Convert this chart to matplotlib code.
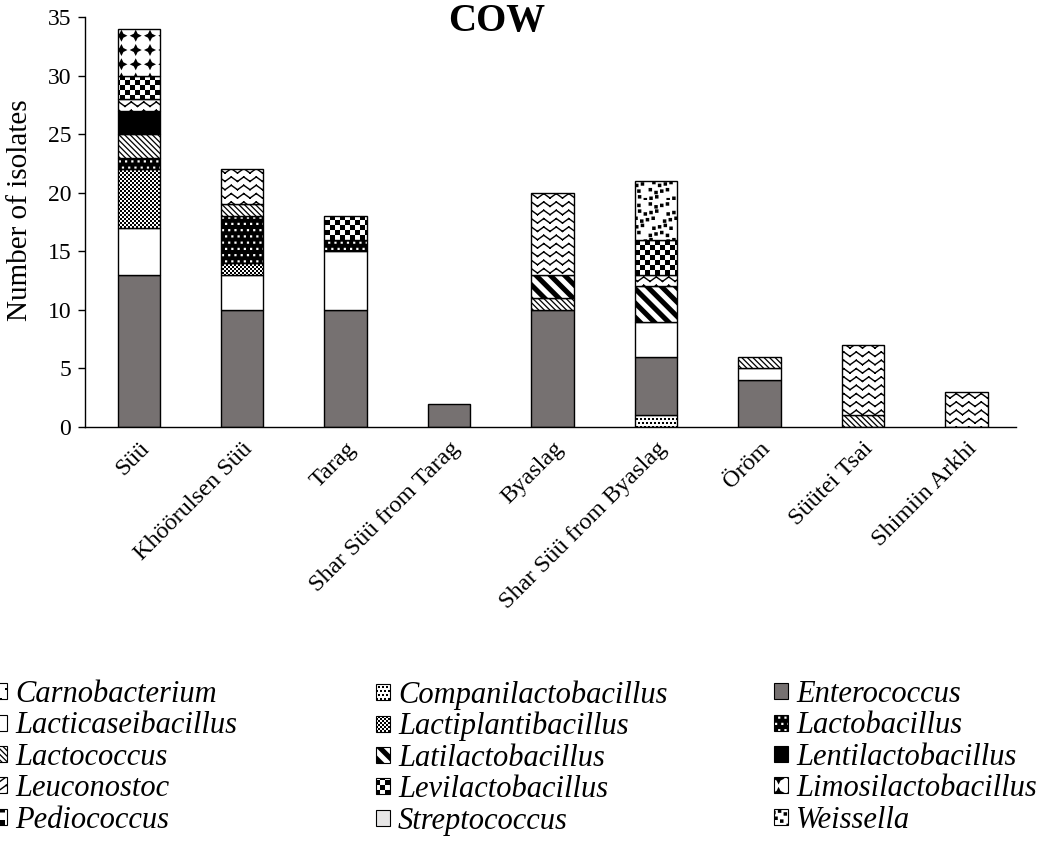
import warnings
warnings.filterwarnings("ignore")
import numpy as np
import matplotlib
matplotlib.use("Agg")
import matplotlib.pyplot as plt
import matplotlib.hatch as mhatch
from matplotlib.path import Path
from matplotlib.patches import Patch
from matplotlib.colors import to_rgba

# ---------------- data ----------------
categories = ["Süü", "Khöörulsen Süü", "Tarag", "Shar Süü from Tarag", "Byaslag",
              "Shar Süü from Byaslag", "Öröm", "Süütei Tsai", "Shimiin Arkhi"]

Carnobacterium = [0, 0, 0, 0, 0, 0, 0, 0, 0]
Companilactobacillus = [0, 0, 0, 0, 0, 1, 0, 0, 0]
Enterococcus = [13, 10, 10, 2, 10, 5, 4, 0, 0]
Lacticaseibacillus = [4, 3, 5, 0, 0, 3, 1, 0, 0]
Lactiplantibacillus = [5, 1, 0, 0, 0, 0, 0, 0, 0]
Lactobacillus = [1, 4, 1, 0, 0, 0, 0, 0, 0]
Lactococcus = [2, 1, 0, 0, 1, 0, 1, 1, 0]
Latilactobacillus = [0, 0, 0, 0, 2, 3, 0, 0, 0]
Lentilactobacillus = [2, 0, 0, 0, 0, 0, 0, 0, 0]
Leuconostoc = [1, 3, 0, 0, 7, 1, 0, 6, 3]
Levilactobacillus = [2, 0, 2, 0, 0, 3, 0, 0, 0]
Limosilactobacillus = [4, 0, 0, 0, 0, 0, 0, 0, 0]
Pediococcus = [0, 0, 0, 0, 0, 0, 0, 0, 0]
Streptococcus = [0, 0, 0, 0, 0, 0, 0, 0, 0]
Weissella = [0, 0, 0, 0, 0, 5, 0, 0, 0]

genera = ["Carnobacterium", "Companilactobacillus", "Enterococcus", "Lacticaseibacillus",
          "Lactiplantibacillus", "Lactobacillus", "Lactococcus", "Latilactobacillus",
          "Lentilactobacillus", "Leuconostoc", "Levilactobacillus", "Limosilactobacillus",
          "Pediococcus", "Streptococcus", "Weissella"]
values = [Carnobacterium, Companilactobacillus, Enterococcus, Lacticaseibacillus,
          Lactiplantibacillus, Lactobacillus, Lactococcus, Latilactobacillus,
          Lentilactobacillus, Leuconostoc, Levilactobacillus, Limosilactobacillus,
          Pediococcus, Streptococcus, Weissella]

# style: (facecolor, hatch, hatchcolor)
styles = {
    "Carnobacterium": ("white", "k", "black"),
    "Companilactobacillus": ("white", "m", "black"),
    "Enterococcus": ("#767171", None, "black"),
    "Lacticaseibacillus": ("white", None, "black"),
    "Lactiplantibacillus": ("white", "f", "black"),
    "Lactobacillus": ("black", "w", "white"),
    "Lactococcus": ("white", "s", "black"),
    "Latilactobacillus": ("white", "b", "black"),
    "Lentilactobacillus": ("black", None, "black"),
    "Leuconostoc": ("white", "z", "black"),
    "Levilactobacillus": ("white", "c", "black"),
    "Limosilactobacillus": ("white", "d", "black"),
    "Pediococcus": ("white", "p", "black"),
    "Streptococcus": ("#e7e6e6", None, "black"),
    "Weissella": ("white", "q", "black"),
}

# ---------------- custom fill-based hatch patterns ----------------
plt.rcParams["hatch.linewidth"] = 0.01
try:
    mhatch._validate_hatch_pattern = lambda hatch: None
except Exception:
    pass


def polys_to_vc(polys):
    verts, codes = [], []
    for P in polys:
        P = np.asarray(P, float)
        verts.append(P)
        verts.append(P[:1])
        codes += [Path.MOVETO] + [Path.LINETO] * (len(P) - 1) + [Path.CLOSEPOLY]
    return np.vstack(verts), np.array(codes, dtype=Path.code_type)


def sq(x, y, s):
    return [(x, y), (x + s, y), (x + s, y + s), (x, y + s)]


def checker(n):
    return [sq(i / n, j / n, 1 / n) for i in range(n) for j in range(n) if (i + j) % 2 == 0]


def dots(nx, ny, s, stagger=True, jitter=False):
    out = []
    for j in range(ny):
        for i in range(nx):
            x = (i + (0.5 if (stagger and j % 2) else 0.0)) / nx
            y = j / ny
            if jitter:
                x += ((i * 3 + j * 5) % 4 - 1.5) * 0.2 / nx
                y += ((i * 7 + j * 2) % 3 - 1.0) * 0.2 / ny
            for dx in (-1, 0, 1):
                out.append(sq(x + dx, y, s))
    return out


def bands(n, w):
    out = []
    for k in range(-2, 2 * n + 3):
        c = k / n
        out.append([(-1, c + 1), (2, c - 2), (2, c + w - 2), (-1, c + w + 1)])
    return out


def zigzag(rows, teeth, amp, t):
    out = []
    for j in range(rows):
        y0 = (j + 0.5) / rows
        ks = np.arange(2 * teeth + 1)
        xs = ks / (2 * teeth)
        ys = y0 + np.where(ks % 2 == 1, amp / 2, -amp / 2)
        for a in range(len(ks) - 1):
            p0 = np.array([xs[a], ys[a]])
            p1 = np.array([xs[a + 1], ys[a + 1]])
            d = p1 - p0
            L = np.hypot(*d)
            u = d / L
            nrm = np.array([-u[1], u[0]]) * t / 2
            p0e = p0 - u * t / 2
            p1e = p1 + u * t / 2
            out.append([p0e + nrm, p1e + nrm, p1e - nrm, p0e - nrm])
    return out


def stars(n, r, ri):
    out = []
    for i in range(n):
        for j in range(n):
            cx, cy = (i + 0.5) / n, (j + 0.5) / n
            pts = []
            for k in range(8):
                ang = np.pi / 4 * k
                rr = r if k % 2 == 0 else ri
                pts.append((cx + rr * np.cos(ang), cy + rr * np.sin(ang)))
            out.append(pts)
    return out


builders = {
    "k": lambda: dots(10, 10, 0.02),
    "m": lambda: dots(25, 25, 0.02),
    "f": lambda: checker(50),
    "w": lambda: dots(16, 16, 0.022),
    "s": lambda: bands(18, 0.018),
    "b": lambda: bands(7, 0.5 / 7),
    "z": lambda: zigzag(12, 8, 0.045, 0.014),
    "c": lambda: checker(20),
    "d": lambda: stars(7, 0.06, 0.028),
    "p": lambda: dots(8, 8, 0.05, stagger=False),
    "q": lambda: dots(14, 14, 0.035, jitter=True),
}


def make_hatch(char, builder):
    cache = {}

    class H(mhatch.HatchPatternBase):
        def __init__(self, hatch, density):
            if hatch.count(char):
                if "vc" not in cache:
                    cache["vc"] = polys_to_vc(builder())
                self.verts, self.codes = cache["vc"]
                self.num_vertices = len(self.verts)
            else:
                self.num_vertices = 0

        def set_vertices_and_codes(self, vertices, codes):
            vertices[:] = self.verts
            codes[:] = self.codes
    return H


for ch, bld in builders.items():
    mhatch._hatch_types.append(make_hatch(ch, bld))


def set_hc(p, c):
    if hasattr(p, "set_hatchcolor"):
        p.set_hatchcolor(c)
    else:
        p._hatch_color = to_rgba(c)


# ---------------- figure ----------------
plt.rcParams["font.family"] = ["Liberation Serif", "DejaVu Serif"]
W, H = 1061, 856
fig = plt.figure(figsize=(W / 100, H / 100), dpi=100)
ax = fig.add_axes([85 / W, 1 - 427 / H, (1016 - 85) / W, (427 - 17) / H])

x = np.arange(len(categories))
bottoms = np.zeros(len(categories))
for name, vals in zip(genera, values):
    vals = np.asarray(vals, float)
    face, hatch, hc = styles[name]
    mask = vals > 0
    if mask.any():
        bars = ax.bar(x[mask] + 0.02, vals[mask], width=0.41, bottom=bottoms[mask],
                      facecolor=face, edgecolor="black", linewidth=1.0, hatch=hatch)
        for b in bars:
            set_hc(b, hc)
    bottoms += vals

ax.set_xlim(-0.5, len(categories) - 0.5)
ax.set_ylim(0, 35)
ax.set_yticks(np.arange(0, 36, 5))
ax.set_xticks(x + 0.02)
ax.set_xticklabels(categories, rotation=45, ha="right", va="top",
                   rotation_mode="anchor", fontsize=17.5)
ax.tick_params(axis="x", length=0, pad=8)
ax.tick_params(axis="y", direction="out", length=5, width=1, pad=5, labelsize=17)
for s in ("top", "right"):
    ax.spines[s].set_visible(False)
for s in ("left", "bottom"):
    ax.spines[s].set_color("black")
    ax.spines[s].set_linewidth(1.0)

fig.text(20 / W, 1 - 210 / H, "Number of isolates", rotation=90,
         ha="center", va="center", fontsize=21)
fig.text(497 / W, 1 - 21 / H, "COW", ha="center", va="center",
         fontsize=28, fontweight="bold")

# ---------------- legend (3 columns, row-major) ----------------
handles = []
for name in genera:
    face, hatch, hc = styles[name]
    p = Patch(facecolor=face, edgecolor="black", hatch=hatch, linewidth=0.8)
    set_hc(p, hc)
    handles.append(p)

col_x = [-7, 376, 774]
for k in range(3):
    idx = list(range(k, len(genera), 3))
    leg = fig.legend([handles[i] for i in idx], [genera[i] for i in idx],
                     loc="upper left", bbox_to_anchor=(col_x[k] / W, 1 - 680 / H),
                     bbox_transform=fig.transFigure, frameon=False,
                     borderpad=0, borderaxespad=0, handlelength=0.46,
                     handleheight=0.43, handletextpad=0.26, labelspacing=0.08,
                     prop={"family": ["Liberation Serif"], "style": "italic", "size": 22})

fig.savefig("out.png", dpi=100)
